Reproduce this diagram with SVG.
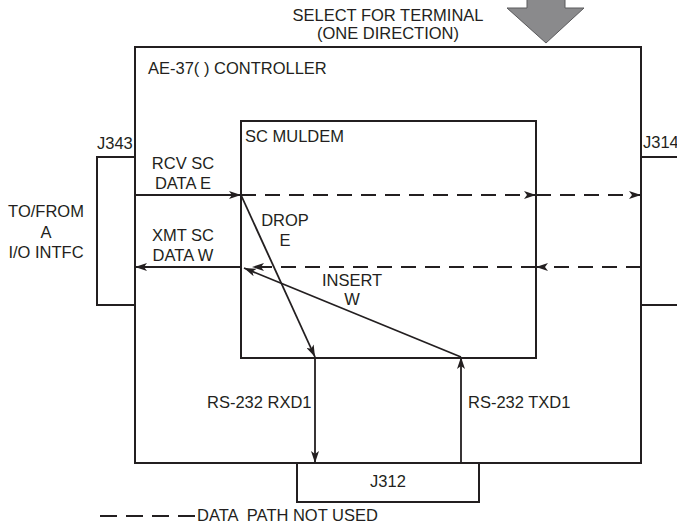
<svg xmlns="http://www.w3.org/2000/svg" width="677" height="528" viewBox="0 0 677 528">
<style>
.box{fill:none;stroke:#231f20;stroke-width:2}
.ln{fill:none;stroke:#231f20;stroke-width:1.8}
.ds{fill:none;stroke:#231f20;stroke-width:1.8;stroke-dasharray:15 9}
text{font-family:"Liberation Sans",Arial,sans-serif;font-size:16.5px;fill:#231f20}
.c{text-anchor:middle}
</style>
<defs>
<marker id="ah" viewBox="0 0 12 8" refX="12" refY="4" markerWidth="12" markerHeight="8" markerUnits="userSpaceOnUse" orient="auto">
<path d="M0,0 L12,4 L0,8 L3,4 Z" fill="#231f20"/>
</marker>
</defs>
<rect width="677" height="528" fill="#fff"/>
<g id="select-arrow">
<path d="M527,-2 L565,-2 L565,8 L584,8 L546,43 L507,8 L527,8 Z" fill="#8a8a8c" stroke="#5a5a5c" stroke-width="1"/>
<text class="c" x="388" y="21">SELECT FOR TERMINAL</text>
<text class="c" x="388" y="39">(ONE DIRECTION)</text>
</g>
<g id="controller">
<rect class="box" x="135" y="47" width="506" height="416"/>
<text x="148" y="74">AE-37( ) CONTROLLER</text>
</g>
<g id="j343">
<path class="box" d="M135,157 L97,157 L97,305 L135,305"/>
<text x="97" y="149">J343</text>
<text class="c" x="46" y="217">TO/FROM</text>
<text class="c" x="46" y="238">A</text>
<text class="c" x="46" y="258">I/O INTFC</text>
</g>
<g id="j314">
<path class="box" d="M641,157 L680,157 M641,305 L680,305"/>
<text x="643" y="148" font-size="14">J314</text>
</g>
<g id="muldem">
<rect class="box" x="241" y="121" width="295" height="237"/>
<text x="245" y="142">SC MULDEM</text>
</g>
<g id="j312">
<rect class="box" x="297" y="463" width="182" height="39"/>
<text class="c" x="388" y="487">J312</text>
</g>
<g id="connectors">
<line class="ln" x1="135" y1="195" x2="241" y2="195" marker-end="url(#ah)"/>
<line class="ln" x1="241" y1="267" x2="135" y2="267" marker-end="url(#ah)"/>
<line class="ds" x1="241" y1="195" x2="536" y2="195" marker-end="url(#ah)"/>
<line class="ds" x1="536" y1="195" x2="641" y2="195" marker-end="url(#ah)"/>
<line class="ds" x1="641" y1="267" x2="536" y2="267" marker-end="url(#ah)"/>
<line class="ds" x1="536" y1="267" x2="252" y2="267" marker-end="url(#ah)"/>
<line class="ln" x1="241" y1="195" x2="315" y2="357" marker-end="url(#ah)"/>
<line class="ln" x1="461" y1="357" x2="244" y2="268" marker-end="url(#ah)"/>
<line class="ln" x1="315" y1="357" x2="315" y2="463" marker-end="url(#ah)"/>
<line class="ln" x1="461" y1="463" x2="461" y2="357" marker-end="url(#ah)"/>
</g>
<g id="labels">
<text class="c" x="183" y="169">RCV SC</text>
<text class="c" x="183" y="189">DATA E</text>
<text class="c" x="183" y="241">XMT SC</text>
<text class="c" x="183" y="261">DATA W</text>
<text class="c" x="285" y="226">DROP</text>
<text class="c" x="285" y="246">E</text>
<text class="c" x="352" y="286">INSERT</text>
<text class="c" x="352" y="305">W</text>
<text x="207" y="408">RS-232 RXD1</text>
<text x="468" y="408">RS-232 TXD1</text>
</g>
<g id="legend">
<line class="ln" x1="100" y1="516" x2="196" y2="516" stroke-dasharray="17 9"/>
<text x="197" y="521" xml:space="preserve">DATA  PATH NOT USED</text>
</g>
</svg>
